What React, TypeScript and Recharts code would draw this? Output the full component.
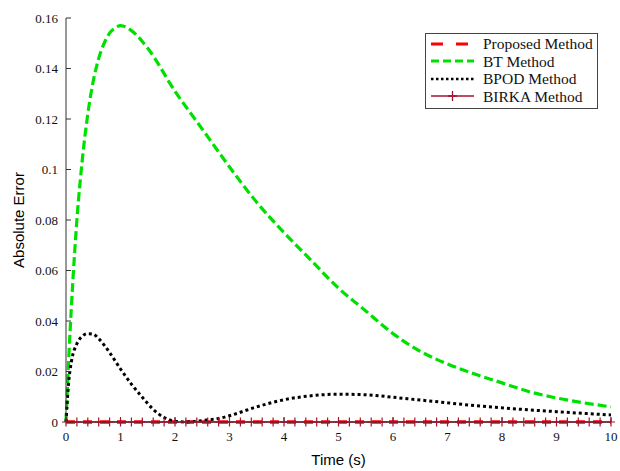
import { LineChart, Line, XAxis, YAxis, Legend } from "recharts";

// BT method error
const btTime = [0, 0.05, 0.1, 0.2, 0.3, 0.4, 0.5, 0.6, 0.7, 0.8, 0.9, 1.0, 1.2, 1.5, 2.0, 2.5, 3.0, 3.5, 4.0, 4.5, 5.0, 5.5, 6.0, 6.5, 7.0, 7.5, 8.0, 8.5, 9.0, 9.5, 10];
const btError = [0, 0.025, 0.046, 0.08, 0.104, 0.122, 0.135, 0.144, 0.15, 0.154, 0.156, 0.157, 0.155, 0.148, 0.131, 0.116, 0.101, 0.087, 0.075, 0.064, 0.053, 0.044, 0.035, 0.028, 0.023, 0.019, 0.0155, 0.012, 0.0095, 0.0076, 0.006];

// BPOD method error
const bpodTime = [0, 0.05, 0.1, 0.2, 0.3, 0.4, 0.5, 0.6, 0.8, 1.0, 1.2, 1.4, 1.6, 1.8, 2.0, 2.2, 2.4, 2.6, 2.8, 3.0, 3.5, 4.0, 4.5, 5.0, 5.5, 6.0, 6.5, 7.0, 7.5, 8.0, 8.5, 9.0, 9.5, 10];
const bpodError = [0, 0.016, 0.024, 0.031, 0.034, 0.035, 0.0348, 0.033, 0.0275, 0.021, 0.015, 0.0098, 0.005, 0.0018, 0.0003, 0, 0.0003, 0.0008, 0.0014, 0.0025, 0.006, 0.0088, 0.0104, 0.011, 0.0108, 0.0098, 0.0087, 0.0076, 0.0065, 0.0056, 0.0048, 0.0041, 0.0034, 0.0028];

// Proposed method error (sits on zero)
const proposedTime = [0, 2.5, 5, 7.5, 10];
const proposedError = [0, 0, 0, 0, 0];

// BIRKA method error, one marker per sample
const birkaTime = [0, 0.2, 0.4, 0.6, 0.8, 1.0, 1.2, 1.4, 1.6, 1.8, 2.0, 2.2, 2.4, 2.6, 2.8, 3.0, 3.2, 3.4, 3.6, 3.8, 4.0, 4.2, 4.4, 4.6, 4.8, 5.0, 5.2, 5.4, 5.6, 5.8, 6.0, 6.2, 6.4, 6.6, 6.8, 7.0, 7.2, 7.4, 7.6, 7.8, 8.0, 8.2, 8.4, 8.6, 8.8, 9.0, 9.2, 9.4, 9.6, 9.8, 10];
const birkaError = birkaTime.map(() => 0);

const xTicks = [0, 1, 2, 3, 4, 5, 6, 7, 8, 9, 10];
const yTicks = [0, 0.02, 0.04, 0.06, 0.08, 0.1, 0.12, 0.14, 0.16];

const seriesNames = ["Proposed Method", "BT Method", "BPOD Method", "BIRKA Method"];

const toRows = (t: number[], v: number[]) => t.map((x, i) => ({ t: x, err: v[i] }));

const btData = toRows(btTime, btError);
const bpodData = toRows(bpodTime, bpodError);
const proposedData = toRows(proposedTime, proposedError);
const birkaData = toRows(birkaTime, birkaError);

const RED = "#ff0000";
const GREEN = "#00e000";
const BLACK = "#000000";
const DARKRED = "#a2142f";

const serif = "'Liberation Serif', 'DejaVu Serif', serif";
const sans = "'Liberation Sans', Arial, sans-serif";

const PlusDot = (props: any) => {
  const { cx, cy, index } = props;
  if (cx == null || cy == null) return null;
  return (
    <path
      key={`plus-${index}`}
      d={`M${cx - 4},${cy}H${cx + 4}M${cx},${cy - 4.5}V${cy + 4.5}`}
      stroke={DARKRED}
      strokeWidth={1.2}
      fill="none"
    />
  );
};

const legendStyles = [
  { color: RED, width: 3, dash: "12 13", plus: false },
  { color: GREEN, width: 3, dash: "8 4", plus: false },
  { color: BLACK, width: 2.5, dash: "2.5 2.5", plus: false },
  { color: DARKRED, width: 1.5, dash: undefined, plus: true },
];

function LegendBox() {
  return (
    <div
      style={{
        width: 173,
        height: 76,
        boxSizing: "border-box",
        border: "1px solid #444",
        background: "#fff",
        paddingTop: 1,
        fontFamily: serif,
        fontSize: 15.5,
        color: "#111",
      }}
    >
      {seriesNames.map((name, i) => {
        const s = legendStyles[i];
        return (
          <div key={name} style={{ display: "flex", alignItems: "center", height: 17.5 }}>
            <svg width={52} height={14} style={{ marginLeft: 4 }}>
              <line x1={1} y1={7} x2={44} y2={7} stroke={s.color} strokeWidth={s.width} strokeDasharray={s.dash} />
              {s.plus && <path d="M22.5,2V12M18,7H27" stroke={s.color} strokeWidth={1.3} />}
            </svg>
            <span style={{ marginLeft: 1, lineHeight: "17px" }}>{name}</span>
          </div>
        );
      })}
    </div>
  );
}

export default function App() {
  return (
    <div style={{ position: "absolute", left: 0, top: 0, width: 620, height: 471, background: "#fff" }}>
      <LineChart width={620} height={471} margin={{ top: 18, right: 9, left: 10, bottom: 5 }}>
        <XAxis
          type="number"
          dataKey="t"
          domain={[0, 10]}
          ticks={xTicks}
          interval={0}
          height={44}
          tickSize={-5}
          tickMargin={15}
          stroke="#333"
          tick={{ fontFamily: serif, fontSize: 13, fill: "#111" }}
          label={{
            content: (p: any) => {
              const vb = p.viewBox || {};
              return (
                <text x={vb.x + vb.width / 2} y={vb.y + 43} textAnchor="middle" fontFamily={sans} fontSize={15} fill="#000">
                  Time (s)
                </text>
              );
            },
          }}
        />
        <YAxis
          type="number"
          domain={[0, 0.16]}
          ticks={yTicks}
          interval={0}
          width={56}
          tickSize={-5}
          tickMargin={13}
          stroke="#333"
          tick={{ fontFamily: serif, fontSize: 13, fill: "#111" }}
          label={{
            content: (p: any) => {
              const vb = p.viewBox || {};
              const cx = vb.x + 14;
              const cy = vb.y + vb.height / 2;
              return (
                <text
                  x={cx}
                  y={cy}
                  textAnchor="middle"
                  transform={`rotate(-90 ${cx} ${cy})`}
                  fontFamily={sans}
                  fontSize={15}
                  fill="#000"
                >
                  Absolute Error
                </text>
              );
            },
          }}
        />
        <Line
          data={proposedData}
          dataKey="err"
          name={seriesNames[0]}
          type="linear"
          stroke={RED}
          strokeWidth={3.5}
          strokeDasharray="9 8"
          dot={false}
          isAnimationActive={false}
        />
        <Line
          data={btData}
          dataKey="err"
          name={seriesNames[1]}
          type="monotone"
          stroke={GREEN}
          strokeWidth={3.2}
          strokeDasharray="9 4"
          dot={false}
          isAnimationActive={false}
        />
        <Line
          data={bpodData}
          dataKey="err"
          name={seriesNames[2]}
          type="monotone"
          stroke={BLACK}
          strokeWidth={3}
          strokeDasharray="3 3"
          dot={false}
          isAnimationActive={false}
        />
        <Line
          data={birkaData}
          dataKey="err"
          name={seriesNames[3]}
          type="linear"
          stroke={DARKRED}
          strokeWidth={1.5}
          dot={<PlusDot />}
          isAnimationActive={false}
        />
        <Legend
          layout="horizontal"
          verticalAlign="middle"
          align="center"
          wrapperStyle={{ position: "absolute", left: 425, top: 33, width: 173, height: 76 }}
          content={() => <LegendBox />}
        />
      </LineChart>
    </div>
  );
}
